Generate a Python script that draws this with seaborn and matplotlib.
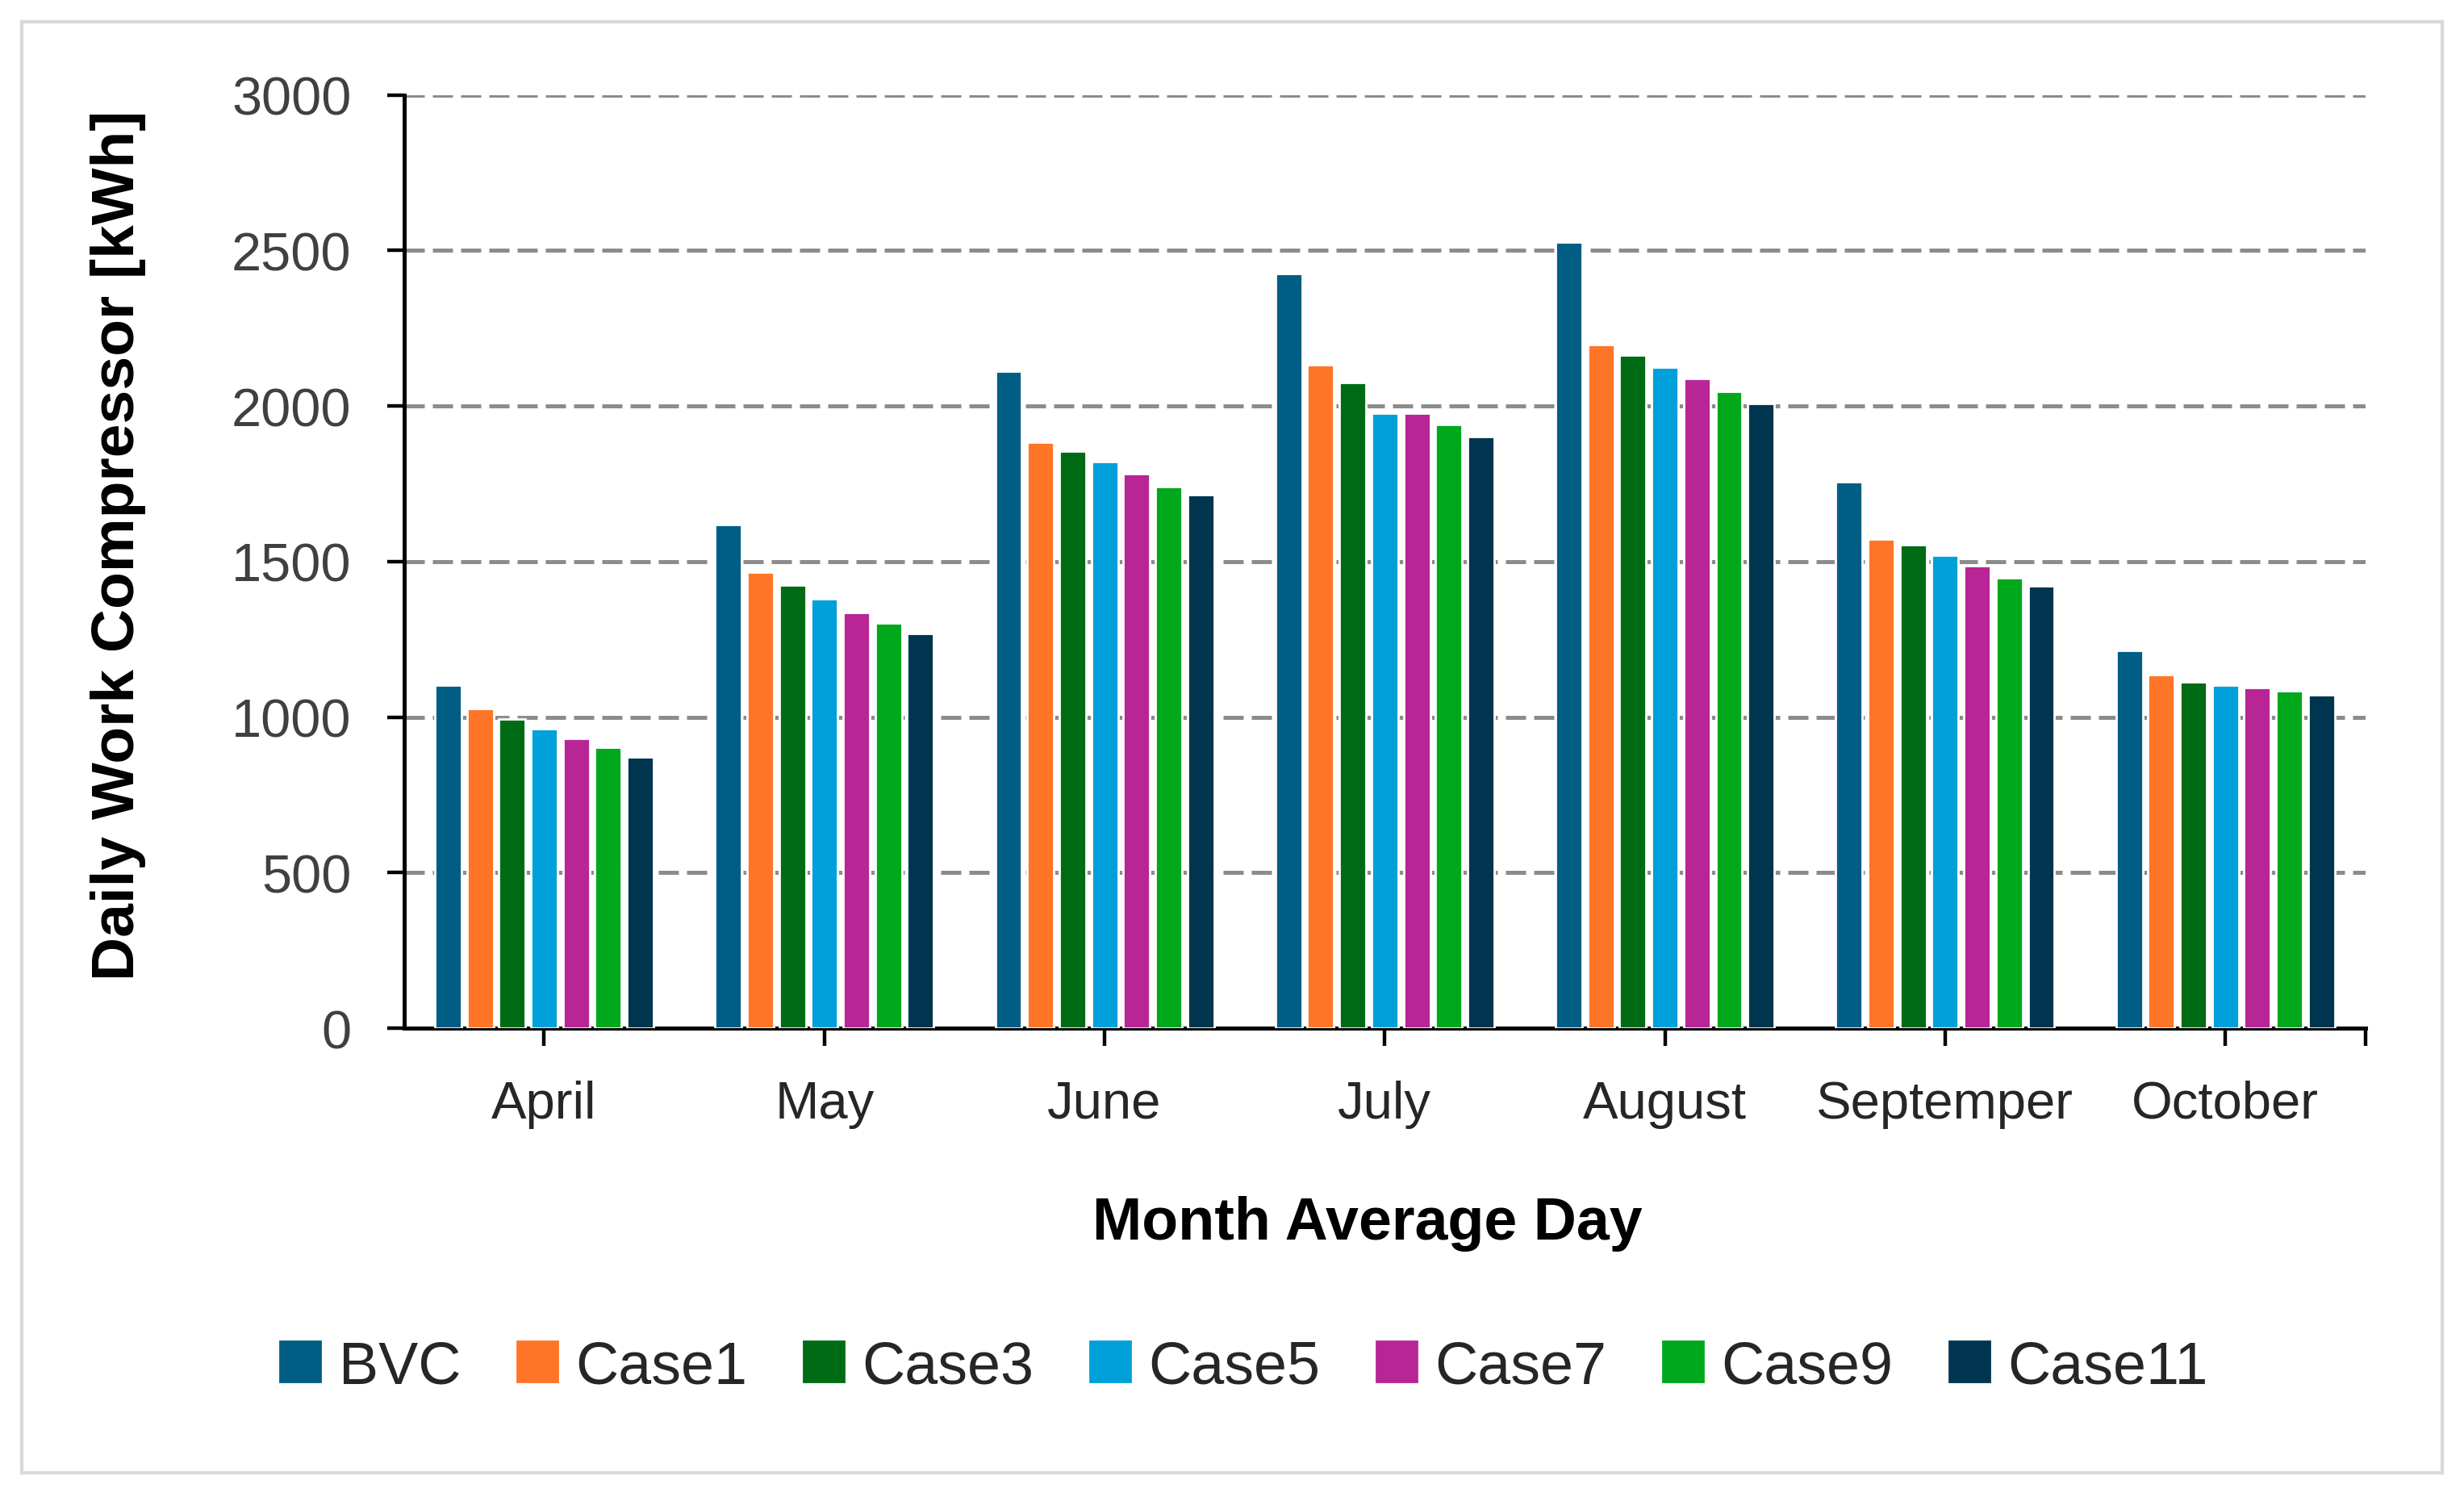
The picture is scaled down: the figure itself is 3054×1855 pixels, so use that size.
import pandas as pd
import numpy as np
import matplotlib
matplotlib.use('Agg')
import matplotlib.pyplot as plt
import seaborn as sns
from matplotlib.patches import Rectangle
from matplotlib.lines import Line2D

# Data
months = ['April', 'May', 'June', 'July', 'August', 'Septemper', 'October']
cases = ['BVC', 'Case1', 'Case3', 'Case5', 'Case7', 'Case9', 'Case11']

bvc = [1104, 1620, 2112, 2427, 2528, 1756, 1214]
case1 = [1027, 1467, 1885, 2133, 2197, 1573, 1137]
case3 = [995, 1425, 1856, 2077, 2163, 1555, 1113]
case5 = [964, 1380, 1821, 1978, 2126, 1520, 1104]
case7 = [931, 1336, 1783, 1978, 2088, 1487, 1095]
case9 = [902, 1303, 1741, 1940, 2046, 1449, 1084]
case11 = [872, 1270, 1714, 1902, 2008, 1422, 1071]

colors = ['#005E84', '#FF7527', '#006B15', '#00A0DA', '#B82696', '#00A81C', '#003550']

series = [bvc, case1, case3, case5, case7, case9, case11]
rows = []
for name, vals in zip(cases, series):
    for m, v in zip(months, vals):
        rows.append({'Month': m, 'Case': name, 'Work': v})
df = pd.DataFrame(rows)

sns.set_style('white')
plt.rcParams['font.family'] = ['Liberation Sans', 'DejaVu Sans']

fig = plt.figure(figsize=(15.27, 9.28), dpi=200)
ax = fig.add_axes([0.164, 0.313, 0.796, 0.623])

sns.barplot(data=df, x='Month', y='Work', hue='Case', order=months, hue_order=cases,
            palette=colors, width=0.8, gap=0.17, saturation=1, errorbar=None,
            legend=False, ax=ax, zorder=3)

ax.set_ylim(0, 3000)
ax.set_xlim(-0.5, len(months) - 0.5)
ax.set_yticks(np.arange(0, 3001, 500))
ax.yaxis.grid(True, linestyle=(0, (5, 2)), color='#8c8c8c', linewidth=1.8, zorder=0)
ax.xaxis.grid(False)
ax.set_axisbelow(True)

for s in ['top', 'right']:
    ax.spines[s].set_visible(False)
for s in ['left', 'bottom']:
    ax.spines[s].set_color('black')
    ax.spines[s].set_linewidth(1.8)

ax.tick_params(axis='y', direction='out', length=7.5, width=1.6, color='black',
               pad=16, labelsize=24, labelcolor='#404040', left=True)
ax.tick_params(axis='x', direction='out', length=8, width=1.6, color='black',
               pad=15, labelsize=23.5, labelcolor='#262626', bottom=True)
ax.set_xticks([len(months) - 0.5], minor=True)
ax.tick_params(axis='x', which='minor', direction='out', length=8, width=1.6,
               color='black', bottom=True)

ax.set_xlabel('')
ax.set_ylabel('')
fig.text(0.048, 0.636, 'Daily Work Compressor [kWh]', rotation=90, ha='center', va='center',
         fontsize=27, fontweight='bold', color='black')
fig.text(0.555, 0.183, 'Month Average Day', ha='center', va='center', fontsize=26.5,
         fontweight='bold', color='black')

handles = [Line2D([0], [0], marker='s', linestyle='none', markersize=18,
                  markerfacecolor=c, markeredgecolor=c) for c in colors]
fig.legend(handles, cases, loc='center', bbox_to_anchor=(0.503, 0.087), ncol=7,
           frameon=False, fontsize=26.5, handletextpad=0.15, columnspacing=0.78,
           handlelength=1.0)

fig.add_artist(Rectangle((0.009, 0.016), 0.982, 0.969, transform=fig.transFigure,
                         fill=False, edgecolor='#d9d9d9', linewidth=1.5))

fig.savefig('out.png', dpi=200, facecolor='white')
